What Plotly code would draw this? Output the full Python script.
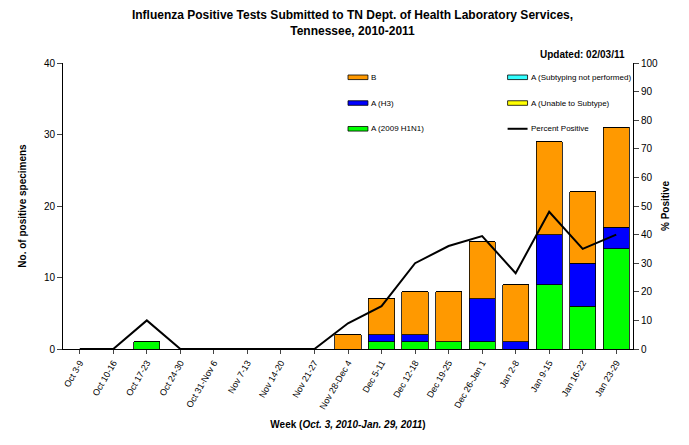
import plotly.graph_objects as go

weeks = ["Oct 3-9", "Oct 10-16", "Oct 17-23", "Oct 24-30", "Oct 31-Nov 6", "Nov 7-13",
         "Nov 14-20", "Nov 21-27", "Nov 28-Dec 4", "Dec 5-11", "Dec 12-18", "Dec 19-25",
         "Dec 26-Jan 1", "Jan 2-8", "Jan 9-15", "Jan 16-22", "Jan 23-29"]
h1n1 = [0, 0, 1, 0, 0, 0, 0, 0, 0, 1, 1, 1, 1, 0, 9, 6, 14]
h3 = [0, 0, 0, 0, 0, 0, 0, 0, 0, 1, 1, 0, 6, 1, 7, 6, 3]
b = [0, 0, 0, 0, 0, 0, 0, 0, 2, 5, 6, 7, 8, 8, 13, 10, 14]
unable = [0] * 17
not_performed = [0] * 17
pct_positive = [0, 0, 10, 0, 0, 0, 0, 0, 9, 15, 30, 36, 39.5, 26.5, 48, 35, 40]

series = [
    ("A (2009 H1N1)", h1n1, "#00ff00"),
    ("A (H3)", h3, "#0000ff"),
    ("B", b, "#ff9900"),
    ("A (Unable to Subtype)", unable, "#ffff00"),
    ("A (Subtyping not performed)", not_performed, "#33ffff"),
]

fig = go.Figure()
for name, vals, color in series:
    fig.add_trace(go.Bar(x=weeks, y=vals, name=name, marker_color=color,
                         marker_line=dict(color="black", width=0.8)))
fig.add_trace(go.Scatter(x=weeks, y=pct_positive, name="Percent Positive", yaxis="y2",
                         mode="lines", line=dict(color="black", width=2)))

# custom legend drawn inside the plot area
legend_items = [
    ("B", "#ff9900", 0.50, 0.95), ("A (Subtyping not performed)", "#33ffff", 0.78, 0.95),
    ("A (H3)", "#0000ff", 0.50, 0.86), ("A (Unable to Subtype)", "#ffff00", 0.78, 0.86),
    ("A (2009 H1N1)", "#00ff00", 0.50, 0.77), ("Percent Positive", None, 0.78, 0.77),
]
for label, color, lx, ly in legend_items:
    if color:
        fig.add_shape(type="rect", xref="paper", yref="paper", x0=lx, x1=lx + 0.035,
                      y0=ly - 0.008, y1=ly + 0.008, fillcolor=color, line=dict(color="black", width=0.8))
    else:
        fig.add_shape(type="line", xref="paper", yref="paper", x0=lx, x1=lx + 0.035,
                      y0=ly, y1=ly, line=dict(color="black", width=2))
    fig.add_annotation(x=lx + 0.037, y=ly, xref="paper", yref="paper", text=label,
                       showarrow=False, xanchor="left", yanchor="middle", font=dict(size=8))

fig.add_annotation(x=0.99, y=1.005, xref="paper", yref="paper", text="<b>Updated: 02/03/11</b>",
                   showarrow=False, xanchor="right", yanchor="bottom", font=dict(size=10))

fig.update_layout(
    width=689, height=445, barmode="stack", bargap=0.22, showlegend=False,
    plot_bgcolor="white", paper_bgcolor="white",
    font=dict(family="Arial, Liberation Sans", color="black"),
    title=dict(text="<b>Influenza Positive Tests Submitted to TN Dept. of Health Laboratory Services,<br>Tennessee, 2010-2011</b>",
               x=0.5, xanchor="center", y=0.975, yanchor="top", font=dict(size=12), automargin=False),
    margin=dict(l=55, r=64, t=55, b=104, autoexpand=False),
    xaxis=dict(title=dict(text="<b>Week (<i>Oct. 3, 2010-Jan. 29, 2011</i>)</b>", font=dict(size=10), standoff=10),
               tickangle=-60, tickfont=dict(size=9), showline=True, linecolor="black",
               ticks="outside", ticklen=4),
    yaxis=dict(title=dict(text="<b>No. of positive specimens</b>", font=dict(size=10)),
               range=[0, 40], dtick=10, showline=True, linecolor="black", ticks="outside",
               showgrid=False, tickfont=dict(size=10), zeroline=False),
    yaxis2=dict(title=dict(text="<b>% Positive</b>", font=dict(size=10), standoff=4), overlaying="y", side="right",
                range=[0, 100], dtick=10, showline=True, linecolor="black", ticks="outside",
                showgrid=False, tickfont=dict(size=10), zeroline=False),
)
fig.write_html("out.html")
